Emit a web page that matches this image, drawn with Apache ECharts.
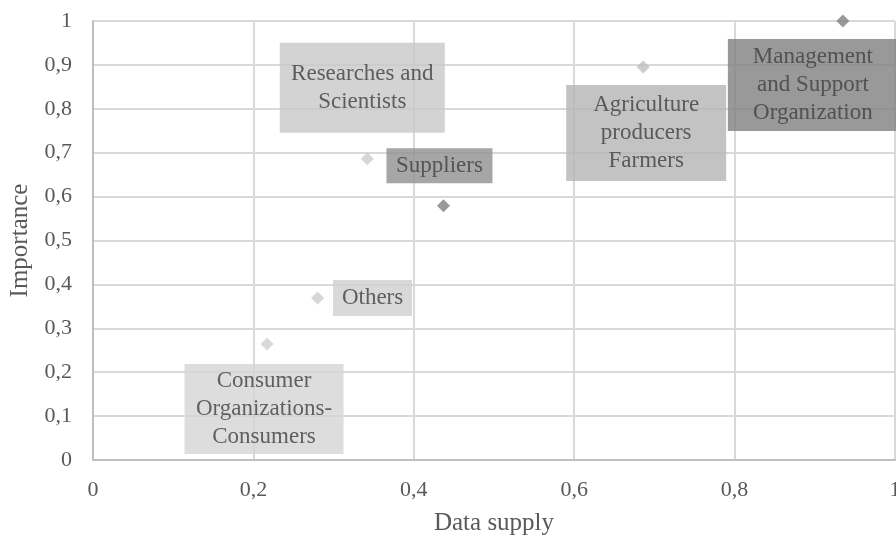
<!DOCTYPE html>
<html><head><meta charset="utf-8">
<script src="https://cdn.jsdelivr.net/npm/echarts@6/dist/echarts.min.js"></script>
<style>html,body{margin:0;padding:0;background:#fff}#c{width:896px;height:538px}</style>
</head><body><div id="c"></div>
<script>
const names = ['Management\nand Support\nOrganization','Agriculture\nproducers\nFarmers','Researches and\nScientists','Suppliers','Others','Consumer\nOrganizations-\nConsumers'];
const dataSupply = [0.935, 0.686, 0.342, 0.437, 0.280, 0.217];
const importance = [1.0, 0.895, 0.686, 0.579, 0.369, 0.264];
const xTicks = [0, 0.2, 0.4, 0.6, 0.8, 1];
const yTicks = [0, 0.1, 0.2, 0.3, 0.4, 0.5, 0.6, 0.7, 0.8, 0.9, 1];

const markerColors = ['#808080','#bfbfbf','#cccccc','#808080','#cccccc','#d0d0d0'];
const boxColors = ['#808080','#b4b4b4','#c8c8c8','#909090','#d0d0d0','#d4d4d4'];
const boxSizes = [[170,92],[160,96],[165,90],[106,35],[79,36],[159,90]];
const boxOffsets = [[-30,64],[3,66],[-5,-71],[-4,-40],[55,0],[-3,65]];

const fmt = v => String(Math.round(v*10)/10).replace('.', ',');
const font = '"Liberation Serif", "Times New Roman", serif';

const data = names.map((n,i) => ({
  value: [dataSupply[i], importance[i]],
  name: n,
  itemStyle: {color: markerColors[i]},
  label: {
    show: true, position: 'inside', formatter: n,
    offset: boxOffsets[i],
    width: boxSizes[i][0], height: boxSizes[i][1],
    align: 'center', verticalAlign: 'middle',
    backgroundColor: boxColors[i],
    fontFamily: font, fontSize: 23, lineHeight: 28, color: '#404040',
    overflow: 'none'
  }
}));

const chart = echarts.init(document.getElementById('c'));
chart.setOption({
  animation: false,
  grid: {left: 93, top: 21, width: 802, bottom: 78, containLabel: false, outerBoundsMode: 'none'},
  xAxis: {
    type: 'value', min: 0, max: 1, interval: 0.2,
    name: 'Data supply', nameLocation: 'middle', nameGap: 51,
    nameTextStyle: {fontFamily: font, fontSize: 25, color: '#595959'},
    axisLine: {show: true, lineStyle: {color: '#bfbfbf', width: 2}},
    axisTick: {show: false},
    axisLabel: {fontFamily: font, fontSize: 22, color: '#595959', margin: 19, formatter: fmt},
    splitLine: {show: true, lineStyle: {color: '#d9d9d9', width: 2}}
  },
  yAxis: {
    type: 'value', min: 0, max: 1, interval: 0.1,
    name: 'Importance', nameLocation: 'middle', nameGap: 60, nameRotate: 90,
    nameTextStyle: {fontFamily: font, fontSize: 25, color: '#595959'},
    axisLine: {show: true, lineStyle: {color: '#bfbfbf', width: 2}},
    axisTick: {show: false},
    axisLabel: {fontFamily: font, fontSize: 22, color: '#595959', margin: 21, formatter: fmt},
    splitLine: {show: true, lineStyle: {color: '#d9d9d9', width: 2}}
  },
  series: [{
    type: 'scatter', symbol: 'diamond', symbolSize: 13,
    data: data
  }]
});
</script></body></html>
